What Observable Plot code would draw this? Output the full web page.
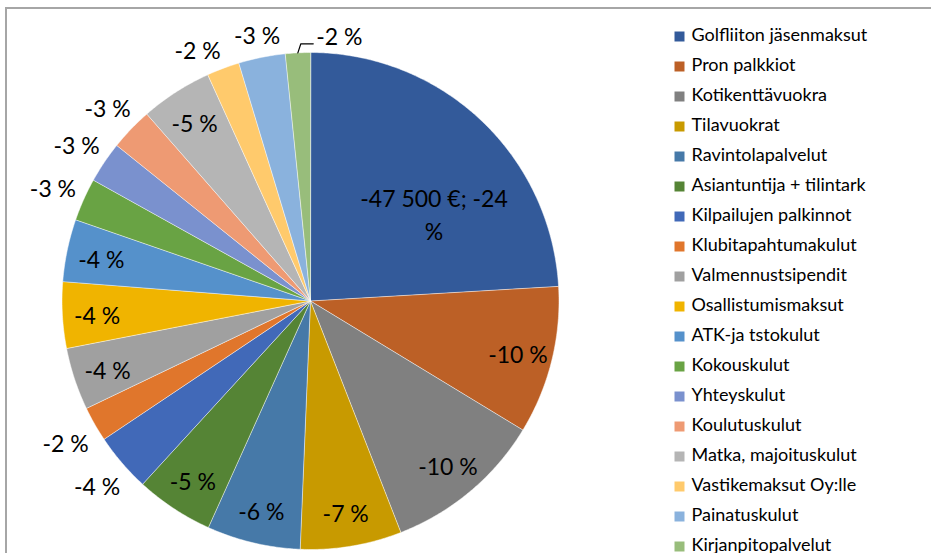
<!DOCTYPE html>
<html><head><meta charset="utf-8">
<script src="https://cdn.jsdelivr.net/npm/d3@7"></script>
<script src="https://cdn.jsdelivr.net/npm/@observablehq/plot@0.6"></script>
<style>
html,body{margin:0;padding:0;background:#fff;}
#wrap{position:relative;width:931px;height:553px;overflow:hidden;font-family:Lato,sans-serif;}
#frame{position:absolute;left:5px;top:7px;right:-10px;bottom:-10px;border-top:2px solid #a6a6a6;border-left:2px solid #a6a6a6;}
#pie,#legend{position:absolute;top:0;}
#pie{left:0;}
#legend{left:660px;}
</style></head><body>
<div id="wrap"><div id="frame"></div><div id="pie"></div><div id="legend"></div></div>
<script>
const categories = ["Golfliiton jäsenmaksut","Pron palkkiot","Kotikenttävuokra","Tilavuokrat","Ravintolapalvelut","Asiantuntija + tilintark","Kilpailujen palkinnot","Klubitapahtumakulut","Valmennustsipendit","Osallistumismaksut","ATK-ja tstokulut","Kokouskulut","Yhteyskulut","Koulutuskulut","Matka, majoituskulut","Vastikemaksut Oy:lle","Painatuskulut","Kirjanpitopalvelut"];
const values = [-47500,-19000,-20500,-13000,-12000,-10000,-7500,-4500,-8000,-8500,-8000,-5500,-5300,-5500,-9200,-4200,-6000,-3200];
const colors = ["#335A9A","#BC6026","#808080","#C89A00","#4679A8","#558435","#4169B8","#E0762C","#A0A0A0","#F0B400","#5591CB","#69A344","#7A91CE","#EE9A73","#B5B5B5","#FFCA6C","#8AB2DD","#98BD7B"];

const R = 248.5; // pie radius in px (layout)
const total = d3.sum(values, v => Math.abs(v));
let acc = 0;
const slices = categories.map((name, i) => {
  const a0 = acc / total * 2 * Math.PI;
  acc += Math.abs(values[i]);
  const a1 = acc / total * 2 * Math.PI;
  return {name, value: values[i], color: colors[i], a0, a1, mid: (a0 + a1) / 2, share: Math.abs(values[i]) / total};
});

const wedgePts = slices.flatMap(s => {
  const n = Math.max(2, Math.ceil((s.a1 - s.a0) / (Math.PI / 360)));
  const pts = [{name: s.name, color: s.color, x: 0, y: 0}];
  for (let k = 0; k <= n; k++) {
    const a = s.a0 + (s.a1 - s.a0) * k / n;
    pts.push({name: s.name, color: s.color, x: Math.sin(a), y: Math.cos(a)});
  }
  return pts;
});

const fmtThousands = v => String(Math.abs(v)).replace(/\B(?=(\d{3})+(?!\d))/g, " ");
const outsidePos = a => {
  const sx = Math.sin(a), cy = Math.cos(a);
  const r = 1 + (9 + 22 * Math.abs(sx) + 11 * Math.abs(cy)) / R;
  return {x: r * sx, y: r * cy};
};
const labels = [];
const outside = [];
const leaders = [];
slices.forEach(s => {
  const pct = Math.round(s.share * 100);
  const sign = s.value < 0 ? "-" : "";
  if (s.share > 0.2) {
    const a = s.a0 + 0.63 * (s.a1 - s.a0);
    labels.push({x: 0.61 * Math.sin(a), y: 0.61 * Math.cos(a), text: `${sign}${fmtThousands(s.value)} €; ${sign}${pct}\n%`, anchor: "middle"});
  } else if (s.share < 0.018) {
    const p0 = {x: Math.sin(s.mid), y: Math.cos(s.mid)};
    const p1 = {x: p0.x + 0.012, y: 1.035};
    const p2 = {x: p1.x + 0.05, y: 1.035};
    [p0, p1, p2].forEach(p => leaders.push({...p, name: s.name}));
    labels.push({x: p2.x + 0.012, y: p2.y, text: `${sign}${pct} %`, anchor: "start"});
  } else if (Math.abs(s.value) >= 8000) {
    labels.push({x: 0.86 * Math.sin(s.mid), y: 0.86 * Math.cos(s.mid), text: `${sign}${pct} %`, anchor: "middle"});
  } else {
    const o = {a: s.mid, text: `${sign}${pct} %`, anchor: "middle"};
    Object.assign(o, outsidePos(o.a));
    outside.push(o);
  }
});
// simple collision avoidance: push earlier outside labels counter-clockwise
for (let i = outside.length - 2; i >= 0; i--) {
  const a = outside[i], b = outside[i + 1];
  let guard = 0;
  while (Math.abs(a.x - b.x) * R < 58 && Math.abs(a.y - b.y) * R < 26 && guard++ < 60) {
    a.a -= Math.PI / 360;
    Object.assign(a, outsidePos(a.a));
  }
}
labels.push(...outside);

const pie = Plot.plot({
  width: 931, height: 553,
  marginLeft: 310 - R, marginRight: 931 - 310 - R, marginTop: 52, marginBottom: 553 - 52 - 2 * R,
  x: {domain: [-1, 1], axis: null},
  y: {domain: [-1, 1], axis: null},
  color: {type: "identity"},
  style: {fontFamily: "Lato, sans-serif", background: "transparent", overflow: "visible"},
  marks: [
    Plot.line(wedgePts, {x: "x", y: "y", z: "name", fill: "color", stroke: "#ffffff", strokeWidth: 0.5, curve: "linear-closed"}),
    Plot.line(leaders, {x: "x", y: "y", z: "name", stroke: "#000", strokeWidth: 1.2}),
    Plot.text(labels.filter(d => d.anchor === "middle"), {x: "x", y: "y", text: "text", fontSize: 23, fill: "#000", lineHeight: 1.45}),
    Plot.text(labels.filter(d => d.anchor === "start"), {x: "x", y: "y", text: "text", fontSize: 23, fill: "#000", textAnchor: "start", dy: -6})
  ]
});
document.getElementById("pie").appendChild(pie);

const legend = Plot.plot({
  width: 271, height: 553, margin: 0,
  y: {type: "point", domain: categories, range: [33, 548], padding: 0, axis: null},
  color: {type: "identity"},
  style: {fontFamily: "Lato, sans-serif", background: "transparent", overflow: "visible"},
  marks: [
    Plot.dot(categories, {y: d => d, fill: (d, i) => colors[i], symbol: "square", r: 5.64, frameAnchor: "left", dx: 19}),
    Plot.text(categories, {y: d => d, text: d => d, frameAnchor: "left", dx: 31, dy: -1, textAnchor: "start", fontSize: 18, fill: "#000"})
  ]
});
document.getElementById("legend").appendChild(legend);
</script>
</body></html>
